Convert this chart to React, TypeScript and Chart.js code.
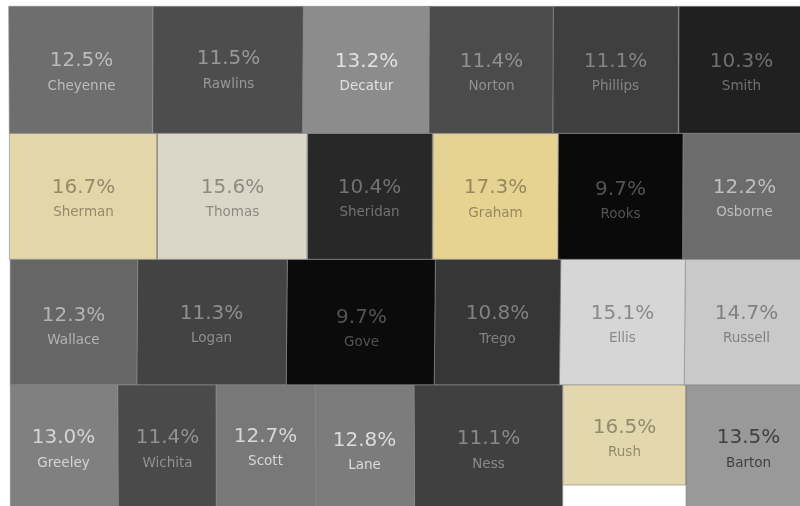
import React, { useEffect, useRef } from "react";
import { Chart, registerables } from "chart.js";

Chart.register(...registerables);

const counties = [
  "Cheyenne", "Rawlins", "Decatur", "Norton", "Phillips", "Smith",
  "Sherman", "Thomas", "Sheridan", "Graham", "Rooks", "Osborne",
  "Wallace", "Logan", "Gove", "Trego", "Ellis", "Russell",
  "Greeley", "Wichita", "Scott", "Lane", "Ness", "Rush", "Barton",
];

const rates = [
  12.5, 11.5, 13.2, 11.4, 11.1, 10.3,
  16.7, 15.6, 10.4, 17.3, 9.7, 12.2,
  12.3, 11.3, 9.7, 10.8, 15.1, 14.7,
  13.0, 11.4, 12.7, 12.8, 11.1, 16.5, 13.5,
];

// County outlines in map units: [left top, right top, right bottom, left bottom, top, bottom]
const outlines: number[][] = [
  [8.7, 152.9, 152.4, 9.3, 6.3, 133.3],
  [152.9, 303.3, 302.4, 152.4, 6.3, 133.3],
  [303.3, 429.2, 428.8, 302.4, 6.3, 133.3],
  [429.2, 553.2, 552.8, 428.8, 6.3, 133.3],
  [553.2, 678.8, 678.4, 552.8, 6.3, 133.3],
  [678.8, 801, 801, 678.4, 6.3, 133.3],

  [9.4, 157.4, 157, 9.8, 133.3, 259.3],
  [157.4, 307.6, 307.2, 157, 133.3, 259.3],
  [307.6, 432.8, 432.4, 307.2, 133.3, 259.3],
  [432.8, 558.2, 557.8, 432.4, 133.3, 259.3],
  [558.2, 683, 682.6, 557.8, 133.3, 259.3],
  [683, 801, 801, 682.6, 133.3, 259.3],

  [10.2, 137.7, 136.8, 10.4, 259.3, 384.8],
  [137.7, 287.3, 286.2, 136.8, 259.3, 384.8],
  [287.3, 435.4, 434.2, 286.2, 259.3, 384.8],
  [435.4, 560.8, 559.4, 434.2, 259.3, 384.8],
  [560.8, 685.4, 684.2, 559.4, 259.3, 384.8],
  [685.4, 801, 801, 684.2, 259.3, 384.8],

  [10.3, 117.7, 118.2, 10.3, 384.8, 507],
  [117.7, 216, 216.4, 118.2, 384.8, 507],
  [216, 315, 315.6, 216.4, 384.8, 507],
  [315, 414, 414.6, 315.6, 384.8, 507],
  [414, 562.6, 562.6, 414.6, 384.8, 507],
  [562.6, 686, 686, 562.6, 384.8, 485],
  [686, 801, 801, 686, 384.8, 507],
];

const fillColours = [
  "#6e6e6e", "#4d4d4d", "#8c8c8c", "#4b4b4b", "#3f3f3f", "#202020",
  "#e3d6a8", "#dbd6c8", "#282828", "#e6d291", "#0a0a0a", "#6c6c6c",
  "#666666", "#434343", "#0b0b0b", "#363636", "#d6d6d6", "#c9c9c9",
  "#808080", "#4a4a4a", "#787878", "#7c7c7c", "#404040", "#e2d7ad", "#999999",
];

const textColours = [
  "#bcbcbc", "#989898", "#e0e0e0", "#909090", "#848484", "#707070",
  "#948a6c", "#8d8a80", "#727272", "#958a5f", "#545454", "#bebebe",
  "#b4b4b4", "#8e8e8e", "#535353", "#808080", "#8a8a8a", "#808080",
  "#d4d4d4", "#929292", "#d8d8d8", "#dcdcdc", "#898989", "#948a6e", "#404040",
];

// Label anchors in map units: [centre x, rate line y, name line y]
const labelAnchors: number[][] = [
  [81.5, 61, 86], [228.5, 59, 84], [366.5, 62, 86], [491.5, 62, 86], [615.5, 62, 86], [741.5, 62, 86],
  [83.5, 188, 212], [232.5, 188, 212], [369.5, 188, 212], [495.5, 188, 213], [620.5, 190, 214], [744.5, 188, 212],
  [73.5, 316, 340], [211.5, 314, 338], [361.5, 318, 342], [497.5, 314, 339], [622.5, 314, 338], [746.5, 314, 338],
  [63.5, 438, 463], [167.5, 438, 463], [265.5, 437, 461], [364.5, 441, 465], [488.5, 439, 464], [624.5, 428, 452], [748.5, 438, 463],
];

const FONT = '"DejaVu Sans", sans-serif';

const countyLabels = {
  id: "countyLabels",
  afterDatasetsDraw(chart: any) {
    const { ctx, scales } = chart;
    ctx.save();
    ctx.textAlign = "center";
    ctx.textBaseline = "middle";
    counties.forEach((name, i) => {
      const [cx, rateY, nameY] = labelAnchors[i];
      const x = scales.x.getPixelForValue(cx);
      ctx.fillStyle = textColours[i];
      ctx.font = `20px ${FONT}`;
      ctx.fillText(`${rates[i].toFixed(1)}%`, x, scales.y.getPixelForValue(rateY));
      ctx.font = `13.5px ${FONT}`;
      ctx.fillText(name, x, scales.y.getPixelForValue(nameY));
    });
    ctx.restore();
  },
};

export default function App() {
  const canvasRef = useRef<HTMLCanvasElement | null>(null);

  useEffect(() => {
    const chart = new Chart(canvasRef.current as HTMLCanvasElement, {
      type: "scatter",
      data: {
        datasets: counties.map((name, i) => {
          const [lt, rt, rb, lb, top, bottom] = outlines[i];
          return {
            label: name,
            data: [
              { x: lt, y: top },
              { x: rt, y: top },
              { x: rb, y: bottom },
              { x: lb, y: bottom },
              { x: lt, y: top },
            ],
            showLine: true,
            fill: "shape",
            tension: 0,
            pointRadius: 0,
            backgroundColor: fillColours[i],
            borderColor: "rgba(135,135,135,0.6)",
            borderWidth: 1,
            clip: false,
          };
        }),
      },
      options: {
        responsive: false,
        animation: false,
        events: [],
        layout: { padding: 0 },
        scales: {
          x: { type: "linear", display: false, min: 0, max: 800 },
          y: { type: "linear", display: false, min: 0, max: 506, reverse: true },
        },
        plugins: {
          legend: { display: false },
          title: { display: false },
          tooltip: { enabled: false },
        },
      },
      plugins: [countyLabels],
    } as any);
    return () => chart.destroy();
  }, []);

  return (
    <div style={{ position: "absolute", left: 0, top: 0, width: 800, height: 506, overflow: "hidden", background: "#ffffff" }}>
      <canvas ref={canvasRef} width={800} height={506} style={{ display: "block" }} />
    </div>
  );
}
